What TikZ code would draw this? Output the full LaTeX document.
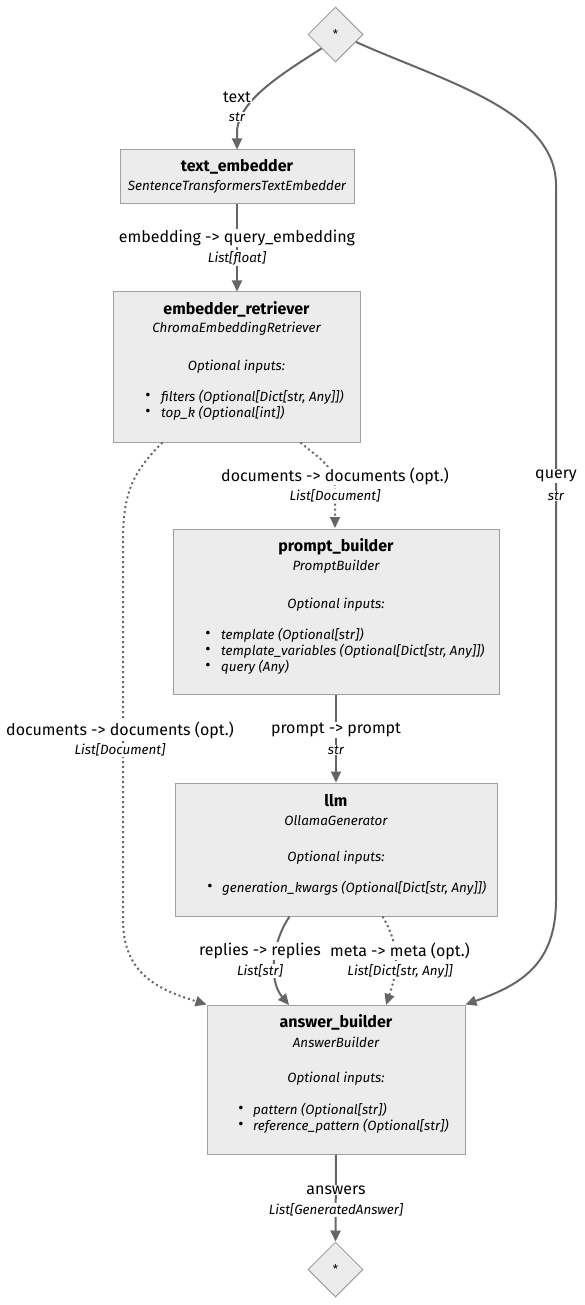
\documentclass[tikz,border=0pt]{standalone}
\usepackage{fontspec}
\setmainfont{Fira Sans}
\usetikzlibrary{shapes.geometric,arrows.meta}
\definecolor{boxfill}{HTML}{ECECEC}
\definecolor{boxline}{HTML}{A0A0A0}
\definecolor{edgecol}{HTML}{666666}

\tikzset{
  box/.style={draw=boxline, fill=boxfill, line width=1pt, rectangle, inner sep=0pt},
  junction/.style={diamond, draw=boxline, fill=boxfill, line width=1pt,
    minimum width=55pt, minimum height=55pt, inner sep=0pt,
    font=\fontsize{12}{14}\selectfont},
  title/.style={font=\fontsize{16}{19}\selectfont\bfseries, inner sep=0pt},
  cls/.style={font=\fontsize{13.4}{15}\selectfont\itshape, inner sep=0pt},
  item/.style={font=\fontsize{13.4}{15}\selectfont\itshape, inner sep=0pt, anchor=west},
  bul/.style={font=\fontsize{16}{15}\selectfont, inner sep=0pt},
  edge/.style={draw=edgecol, line width=2pt, -{Triangle[length=11pt,width=10pt]}},
  optedge/.style={edge, dash pattern=on 2pt off 3pt},
  elabel/.style={font=\fontsize{16}{19}\selectfont, fill=white, inner sep=1pt},
  etype/.style={font=\fontsize{13.4}{15}\selectfont\itshape, fill=white, inner sep=1pt},
}

\begin{document}
\begin{tikzpicture}[x=1pt,y=-1pt]
\useasboundingbox (0,0) rectangle (585,1305);

% ---- components ----
\node[junction] (d1) at (335.5,34.5) {*};

\node[box, minimum width=234pt, minimum height=54pt] (te) at (237,177) {};
\node[title] (te-t) at (237,167) {text\_embedder};
\node[cls]   (te-c) at (237,187) {SentenceTransformersTextEmbedder};

\node[box, minimum width=247pt, minimum height=150pt] (er) at (236.5,367) {};
\node[title] (er-t) at (236.5,309) {embedder\_retriever};
\node[cls]   (er-c) at (236.5,329) {ChromaEmbeddingRetriever};
\node[cls]   (er-o) at (236.5,367) {Optional inputs:};
\node[bul]   (er-b1) at (148,397) {•};
\node[item]  (er-i1) at (161,397) {filters (Optional[Dict[str, Any]])};
\node[bul]   (er-b2) at (148,413) {•};
\node[item]  (er-i2) at (161,413) {top\_k (Optional[int])};

\node[box, minimum width=326pt, minimum height=165pt] (pb) at (336,611.5) {};
\node[title] (pb-t) at (336,547) {prompt\_builder};
\node[cls]   (pb-c) at (336,567) {PromptBuilder};
\node[cls]   (pb-o) at (336,605) {Optional inputs:};
\node[bul]   (pb-b1) at (208,635) {•};
\node[item]  (pb-i1) at (221,635) {template (Optional[str])};
\node[bul]   (pb-b2) at (208,651) {•};
\node[item]  (pb-i2) at (221,651) {template\_variables (Optional[Dict[str, Any]])};
\node[bul]   (pb-b3) at (208,667) {•};
\node[item]  (pb-i3) at (221,667) {query (Any)};

\node[box, minimum width=322pt, minimum height=133pt] (llm) at (336,849.5) {};
\node[title] (llm-t) at (336,801) {llm};
\node[cls]   (llm-c) at (336,821) {OllamaGenerator};
\node[cls]   (llm-o) at (336,858) {Optional inputs:};
\node[bul]   (llm-b1) at (210,888) {•};
\node[item]  (llm-i1) at (222,888) {generation\_kwargs (Optional[Dict[str, Any]])};

\node[box, minimum width=258pt, minimum height=149pt] (ab) at (336,1079.5) {};
\node[title] (ab-t) at (336,1022) {answer\_builder};
\node[cls]   (ab-c) at (336,1042) {AnswerBuilder};
\node[cls]   (ab-o) at (336,1079) {Optional inputs:};
\node[bul]   (ab-b1) at (241,1110) {•};
\node[item]  (ab-i1) at (253,1110) {pattern (Optional[str])};
\node[bul]   (ab-b2) at (241,1126) {•};
\node[item]  (ab-i2) at (253,1126) {reference\_pattern (Optional[str])};

\node[junction] (d2) at (335.5,1269.5) {*};

% ---- connectors ----
\draw[edge] (d1.south west) .. controls (280,75) and (240,100) .. (237,130) -- (te.north);
\draw[edge] (te.south) -- (te.south |- er.north);
\draw[optedge] ([xshift=-60pt]er.south east) .. controls (318,458) and (335,465) .. (335,490) -- (335,528);
\draw[optedge] ([xshift=50pt]er.south west) .. controls (135,470) and (123,490) .. (123,540)
  -- (123,920) .. controls (123,975) and (160,990) .. (ab.north west);
\draw[edge] (pb.south) -- (llm.north);
\draw[edge] ([xshift=115pt]llm.south west) .. controls (272,942) and (268,980) .. (289,1005);
\draw[optedge] ([xshift=-115pt]llm.south east) .. controls (400,945) and (398,970) .. (386,1005);
\draw[edge] (d1.-20) .. controls (440,80) and (556,110) .. (556,185)
  -- (556,900) .. controls (556,965) and (520,985) .. (ab.north east);
\draw[edge] (ab.south) -- (d2.north);

% ---- connector labels ----
\node[elabel] (l1) at (237,97) {text};
\node[etype]  (l1t) at (237,117) {str};
\node[elabel] (l2) at (237,238) {embedding -> query\_embedding};
\node[etype]  (l2t) at (237,258) {List[float]};
\node[elabel] (l3) at (335,476) {documents -> documents (opt.)};
\node[etype]  (l3t) at (335,496) {List[Document]};
\node[elabel] (l4) at (556,476) {query};
\node[etype]  (l4t) at (556,496) {str};
\node[elabel] (l5) at (120,730) {documents -> documents (opt.)};
\node[etype]  (l5t) at (120,750) {List[Document]};
\node[elabel] (l6) at (336,730) {prompt -> prompt};
\node[etype]  (l6t) at (336,750) {str};
\node[elabel] (l7) at (260,951) {replies -> replies};
\node[etype]  (l7t) at (260,971) {List[str]};
\node[elabel] (l8) at (400,951) {meta -> meta (opt.)};
\node[etype]  (l8t) at (400,971) {List[Dict[str, Any]]};
\node[elabel] (l9) at (336,1190) {answers};
\node[etype]  (l9t) at (336,1210) {List[GeneratedAnswer]};
\end{tikzpicture}
\end{document}
